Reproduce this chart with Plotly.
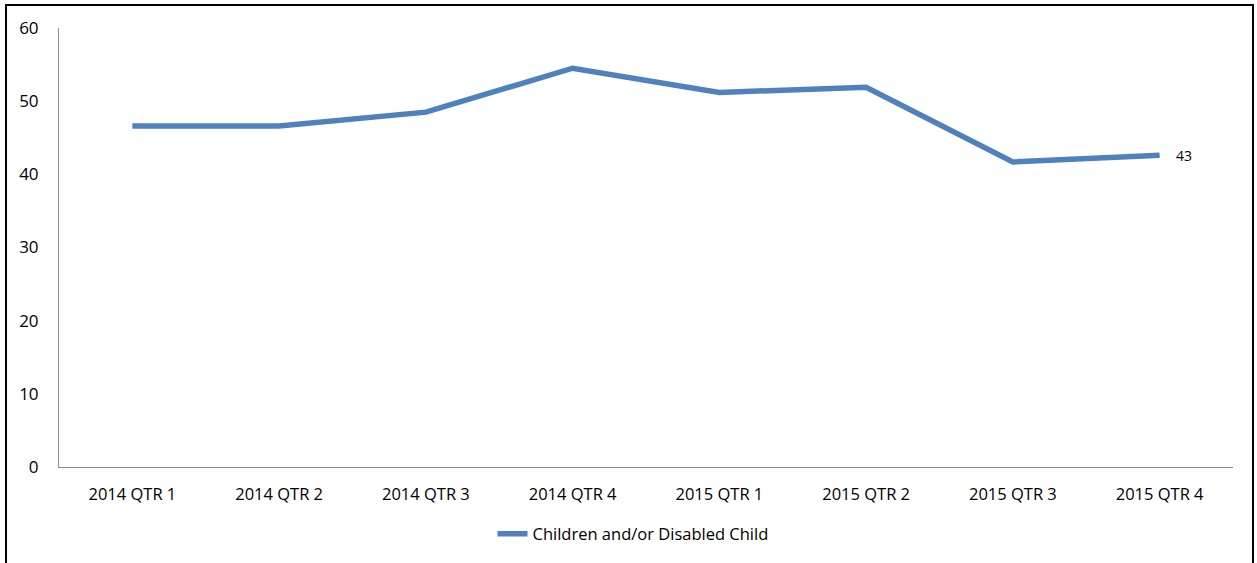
import plotly.graph_objects as go

categories = ["2014 QTR 1", "2014 QTR 2", "2014 QTR 3", "2014 QTR 4",
              "2015 QTR 1", "2015 QTR 2", "2015 QTR 3", "2015 QTR 4"]
values = [46.6, 46.6, 48.5, 54.5, 51.2, 51.9, 41.7, 42.6]
series_name = "Children and/or Disabled Child"
last_label = "43"
y_ticks = [0, 10, 20, 30, 40, 50, 60]

W, H = 1257, 563
L, R, T, B = 59, 24, 28, 96
pw, ph = W - L - R, H - T - B


def px_x(x):
    return (x - L) / pw


def px_y(y):
    return (H - B - y) / ph


fig = go.Figure()
fig.add_trace(go.Scatter(
    x=list(range(len(categories))), y=values, mode="lines",
    name=series_name,
    line=dict(color="#4F81BD", width=5.5),
))
fig.add_annotation(x=len(categories) - 1, y=values[-1], text=last_label,
                   showarrow=False, xanchor="left", xshift=14,
                   font=dict(size=14, color="#000000"))

fig.add_shape(type="rect", xref="paper", yref="paper",
              x0=px_x(6), x1=px_x(1253), y0=px_y(580), y1=px_y(5),
              line=dict(color="#000000", width=2), fillcolor="rgba(0,0,0,0)")

fig.update_layout(
    width=W, height=H,
    margin=dict(l=L, r=R, t=T, b=B),
    paper_bgcolor="white", plot_bgcolor="white",
    font=dict(family="Open Sans, Liberation Sans, sans-serif", size=16, color="#000000"),
    showlegend=True,
    legend=dict(orientation="h", x=px_x(633), xanchor="center", y=px_y(534), yanchor="middle",
                font=dict(size=16.5), itemwidth=30),
    xaxis=dict(range=[-0.5, len(categories) - 0.5], tickmode="array",
               tickvals=list(range(len(categories))), ticktext=categories,
               showgrid=False, zeroline=False, showline=True,
               linecolor="#8c8c8c", linewidth=1, ticks="", ticklabelstandoff=12,
               tickfont=dict(size=16.5)),
    yaxis=dict(range=[0, 60], tickvals=y_ticks, showgrid=False, zeroline=False,
               showline=True, linecolor="#8c8c8c", linewidth=1, ticks="",
               ticklabelstandoff=16, tickfont=dict(size=17)),
)
fig.write_html("out.html", config={"displayModeBar": False},
               post_script="document.body.style.margin='0';document.body.style.overflow='hidden';")
